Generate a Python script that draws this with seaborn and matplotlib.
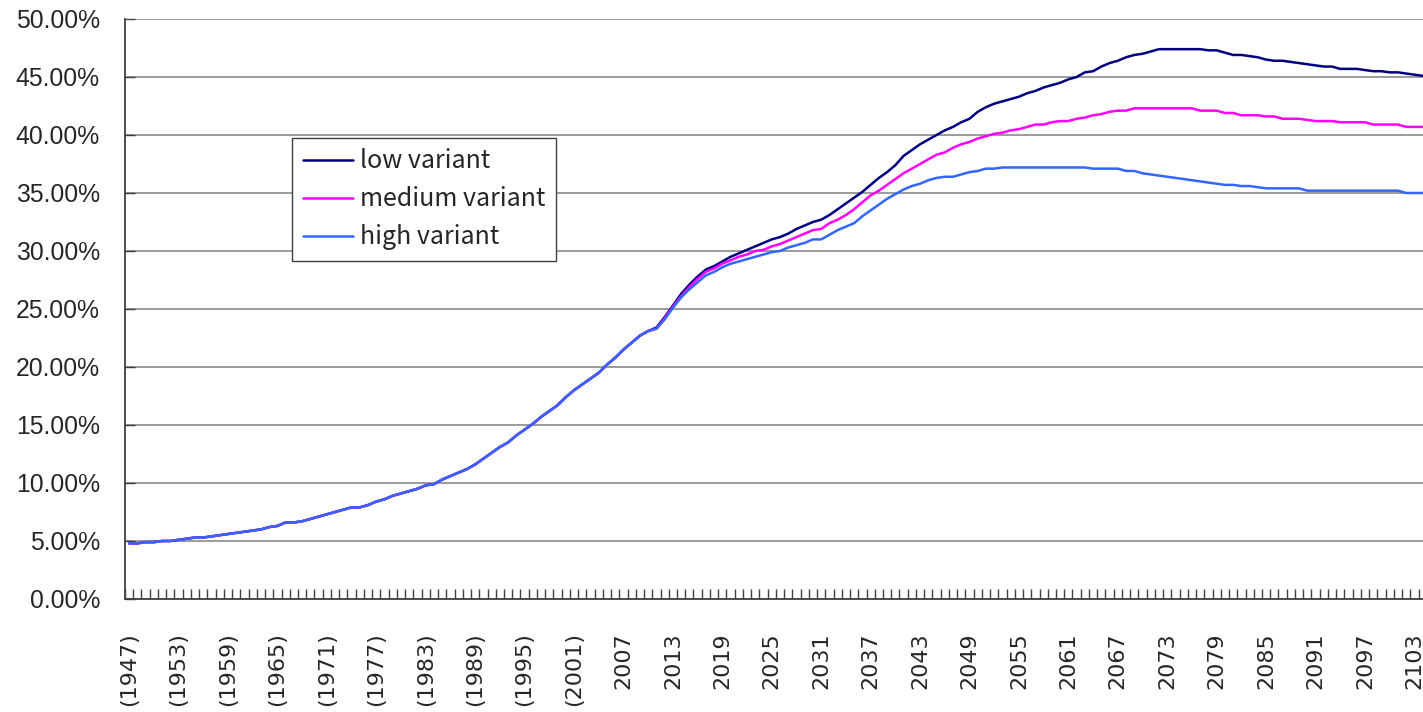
import numpy as np
import pandas as pd
import matplotlib
matplotlib.use("Agg")
import matplotlib.pyplot as plt
import seaborn as sns
from matplotlib.lines import Line2D
from matplotlib.ticker import FixedLocator, FuncFormatter

# share of population aged 65+ (%), one value per year
years = list(range(1947, 2106))

# 1947-2010, same for all three variants
actual = [4.8, 4.8, 4.9, 4.9, 5.0, 5.0, 5.1, 5.2, 5.3, 5.3,
          5.4, 5.5, 5.6, 5.7, 5.8, 5.9, 6.0, 6.2, 6.3, 6.6,
          6.6, 6.7, 6.9, 7.1, 7.3, 7.5, 7.7, 7.9, 7.9, 8.1,
          8.4, 8.6, 8.9, 9.1, 9.3, 9.5, 9.8, 9.9, 10.3, 10.6,
          10.9, 11.2, 11.6, 12.1, 12.6, 13.1, 13.5, 14.1, 14.6, 15.1,
          15.7, 16.2, 16.7, 17.4, 18.0, 18.5, 19.0, 19.5, 20.2, 20.8,
          21.5, 22.1, 22.7, 23.1]

# 2011-2105
low_variant = [23.4, 24.3, 25.3, 26.3, 27.1, 27.8, 28.4, 28.7, 29.1, 29.5,
               29.8, 30.1, 30.4, 30.7, 31.0, 31.2, 31.5, 31.9, 32.2, 32.5,
               32.7, 33.1, 33.6, 34.1, 34.6, 35.1, 35.7, 36.3, 36.8, 37.4,
               38.2, 38.7, 39.2, 39.6, 40.0, 40.4, 40.7, 41.1, 41.4, 42.0,
               42.4, 42.7, 42.9, 43.1, 43.3, 43.6, 43.8, 44.1, 44.3, 44.5,
               44.8, 45.0, 45.4, 45.5, 45.9, 46.2, 46.4, 46.7, 46.9, 47.0,
               47.2, 47.4, 47.4, 47.4, 47.4, 47.4, 47.4, 47.3, 47.3, 47.1,
               46.9, 46.9, 46.8, 46.7, 46.5, 46.4, 46.4, 46.3, 46.2, 46.1,
               46.0, 45.9, 45.9, 45.7, 45.7, 45.7, 45.6, 45.5, 45.5, 45.4,
               45.4, 45.3, 45.2, 45.1, 45.1]
medium_variant = [23.3, 24.2, 25.2, 26.1, 26.9, 27.6, 28.2, 28.5, 28.9, 29.2,
                  29.5, 29.7, 30.0, 30.1, 30.4, 30.6, 30.9, 31.2, 31.5, 31.8,
                  31.9, 32.4, 32.7, 33.1, 33.6, 34.2, 34.8, 35.2, 35.7, 36.2,
                  36.7, 37.1, 37.5, 37.9, 38.3, 38.5, 38.9, 39.2, 39.4, 39.7,
                  39.9, 40.1, 40.2, 40.4, 40.5, 40.7, 40.9, 40.9, 41.1, 41.2,
                  41.2, 41.4, 41.5, 41.7, 41.8, 42.0, 42.1, 42.1, 42.3, 42.3,
                  42.3, 42.3, 42.3, 42.3, 42.3, 42.3, 42.1, 42.1, 42.1, 41.9,
                  41.9, 41.7, 41.7, 41.7, 41.6, 41.6, 41.4, 41.4, 41.4, 41.3,
                  41.2, 41.2, 41.2, 41.1, 41.1, 41.1, 41.1, 40.9, 40.9, 40.9,
                  40.9, 40.7, 40.7, 40.7, 40.7]
high_variant = [23.3, 24.1, 25.1, 26.0, 26.7, 27.3, 27.9, 28.2, 28.6, 28.9,
                29.1, 29.3, 29.5, 29.7, 29.9, 30.0, 30.3, 30.5, 30.7, 31.0,
                31.0, 31.4, 31.8, 32.1, 32.4, 33.0, 33.5, 34.0, 34.5, 34.9,
                35.3, 35.6, 35.8, 36.1, 36.3, 36.4, 36.4, 36.6, 36.8, 36.9,
                37.1, 37.1, 37.2, 37.2, 37.2, 37.2, 37.2, 37.2, 37.2, 37.2,
                37.2, 37.2, 37.2, 37.1, 37.1, 37.1, 37.1, 36.9, 36.9, 36.7,
                36.6, 36.5, 36.4, 36.3, 36.2, 36.1, 36.0, 35.9, 35.8, 35.7,
                35.7, 35.6, 35.6, 35.5, 35.4, 35.4, 35.4, 35.4, 35.4, 35.2,
                35.2, 35.2, 35.2, 35.2, 35.2, 35.2, 35.2, 35.2, 35.2, 35.2,
                35.2, 35.0, 35.0, 35.0, 35.0]

variant_names = ["low variant", "medium variant", "high variant"]
variant_colors = ["#000080", "#FF00FF", "#3366FF"]

label_years = list(range(1947, 2106, 6))
tick_labels = [f"({y})" if y <= 2001 else str(y) for y in label_years]

df = pd.DataFrame({
    "year": years * 3,
    "ratio": actual + low_variant + actual + medium_variant + actual + high_variant,
    "variant": sum([[n] * len(years) for n in variant_names], []),
})

sns.set_style("white")
plt.rcParams["font.family"] = ["Liberation Sans", "DejaVu Sans"]

fig = plt.figure(figsize=(14.23, 7.12), dpi=100)
# plot area runs past the right edge of the picture, like the original
ax = fig.add_axes([125 / 1423, 1 - 599 / 712, 1310 / 1423, 580 / 712])

# high variant drawn last so it sits on top of the shared history
sns.lineplot(data=df, x="year", y="ratio", hue="variant", hue_order=variant_names,
             palette=dict(zip(variant_names, variant_colors)), linewidth=1.8,
             legend=False, ax=ax)

ax.set_xlim(1946.5, 2105.5)
ax.set_ylim(0, 50)
ax.set_xlabel("")
ax.set_ylabel("")

ax.yaxis.set_major_locator(FixedLocator(np.arange(0, 50.1, 5)))
ax.yaxis.set_major_formatter(FuncFormatter(lambda v, p: f"{v:.2f}%"))
ax.yaxis.grid(True, color="#808080", linewidth=1.1)
ax.set_axisbelow(True)
ax.tick_params(axis="y", direction="in", length=7, width=1, color="#404040",
               labelsize=17.8, pad=18, left=True)

ax.set_xticks(label_years)
ax.set_xticklabels(tick_labels, rotation=90, fontsize=16, family="DejaVu Sans")
ax.xaxis.set_minor_locator(FixedLocator(np.arange(1946.5, 2106, 1)))
ax.tick_params(axis="x", which="major", length=0, pad=24)
ax.tick_params(axis="x", which="minor", direction="in", length=7, width=1,
               color="#404040", bottom=True)

for side in ["top", "right"]:
    ax.spines[side].set_visible(False)
for side in ["left", "bottom"]:
    ax.spines[side].set_color("#404040")
    ax.spines[side].set_linewidth(1.3)

handles = [Line2D([], [], color=c, linewidth=1.8) for c in variant_colors]
leg = ax.legend(handles, variant_names, loc="upper left",
                bbox_to_anchor=(292 / 1423, 1 - 138 / 712), bbox_transform=fig.transFigure,
                borderaxespad=0, frameon=True, fancybox=False, framealpha=1,
                edgecolor="#404040", handlelength=2.0, handletextpad=0.3,
                labelspacing=0.48, borderpad=0.42,
                prop={"family": "Noto Sans CJK JP", "size": 18})
leg.get_frame().set_linewidth(1.0)

fig.savefig("out.png", dpi=100)
